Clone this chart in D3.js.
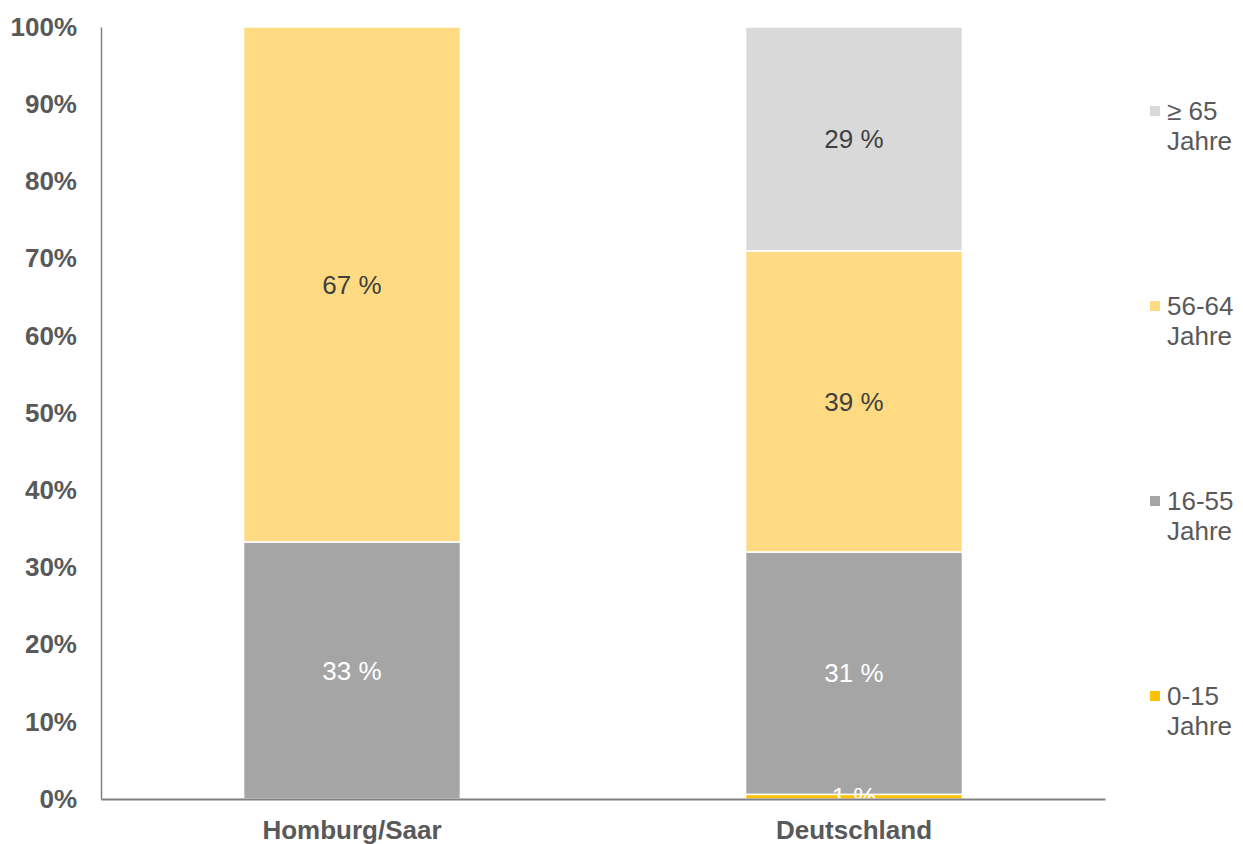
<!DOCTYPE html>
<html>
<head>
<meta charset="utf-8">
<script src="https://cdn.jsdelivr.net/npm/d3@7"></script>
<style>
  body { margin: 0; background: #fff; }
  text { font-family: "Liberation Sans", Arial, sans-serif; }
</style>
</head>
<body>
<svg id="chart" width="1243" height="844"></svg>
<script>
// DATA
const categories = ['Homburg/Saar', 'Deutschland'];
const seriesNames = ['0-15', '16-55', '56-64', '≥ 65'];
const seriesColors = ['#FFC000', '#A5A5A5', '#FEDB82', '#D9D9D9'];
const labelColors = ['#ffffff', '#ffffff', '#404040', '#404040'];
// percentage per series, one entry per category
const age0to15 = [0, 0.6];
const age16to55 = [33.3, 31.4];
const age56to64 = [66.7, 39.0];
const age65plus = [0, 29.0];
const yTicks = [0, 10, 20, 30, 40, 50, 60, 70, 80, 90, 100];

const svg = d3.select('#chart');
const margin = {left: 101, right: 138, top: 27, bottom: 45};
const width = 1243 - margin.left - margin.right;
const height = 844 - margin.top - margin.bottom;
const g = svg.append('g').attr('transform', `translate(${margin.left},${margin.top})`);

const table = categories.map((c, i) => ({
  cat: c,
  s0: age0to15[i], s1: age16to55[i], s2: age56to64[i], s3: age65plus[i]
}));
const stack = d3.stack().keys(['s0', 's1', 's2', 's3'])(table);

const pad = 0.568;
const x = d3.scaleBand().domain(categories).range([0, width])
  .paddingInner(pad).paddingOuter(pad / 2);
const y = d3.scaleLinear().domain([0, 100]).range([height, 0]);

// bars
const layer = g.selectAll('.layer').data(stack).enter().append('g')
  .attr('class', 'layer')
  .attr('fill', (d, i) => seriesColors[i]);

layer.selectAll('rect').data(d => d.filter(p => p[1] - p[0] > 0)).enter().append('rect')
  .attr('x', d => x(d.data.cat))
  .attr('y', d => y(d[1]))
  .attr('width', x.bandwidth())
  .attr('height', d => y(d[0]) - y(d[1]))
  .attr('stroke', '#ffffff')
  .attr('stroke-width', 1.5);

// value labels
stack.forEach((s, si) => {
  g.selectAll('.lbl' + si).data(s.filter(p => p[1] - p[0] > 0)).enter().append('text')
    .attr('x', d => x(d.data.cat) + x.bandwidth() / 2)
    .attr('y', d => y((d[0] + d[1]) / 2))
    .attr('dy', '0.35em')
    .attr('text-anchor', 'middle')
    .attr('font-size', 26)
    .attr('fill', labelColors[si])
    .text(d => Math.round(d[1] - d[0]) + ' %');
});

// y axis
const yAxis = d3.axisLeft(y).tickValues(yTicks).tickSize(0).tickPadding(24)
  .tickFormat(d => d + '%');
const yg = g.append('g').call(yAxis);
yg.select('.domain').attr('stroke', '#808080').attr('stroke-width', 1.5);
yg.selectAll('text').attr('font-size', 26).attr('font-weight', 'bold')
  .attr('fill', '#595959').style('font-family', '"Liberation Sans", Arial, sans-serif');

// x axis
const xAxis = d3.axisBottom(x).tickSize(0).tickPadding(22);
const xg = g.append('g').attr('transform', `translate(0,${height})`).call(xAxis);
xg.select('.domain').attr('stroke', '#808080').attr('stroke-width', 2);
xg.selectAll('text').attr('font-size', 26).attr('font-weight', 'bold')
  .attr('fill', '#595959').style('font-family', '"Liberation Sans", Arial, sans-serif');

// legend (top to bottom: reversed series order)
const legendY = d3.scalePoint().domain(seriesNames.slice().reverse()).range([111, 696]);
const legend = svg.selectAll('.legend').data(seriesNames).enter().append('g')
  .attr('class', 'legend')
  .attr('transform', d => `translate(1150,${legendY(d)})`);
legend.append('rect')
  .attr('x', 0).attr('y', -5).attr('width', 10).attr('height', 10)
  .attr('fill', (d, i) => seriesColors[i]);
legend.append('text')
  .attr('x', 17).attr('y', 0).attr('dy', '0.35em')
  .attr('font-size', 26).attr('fill', '#595959')
  .text(d => d);
legend.append('text')
  .attr('x', 17).attr('y', 30).attr('dy', '0.35em')
  .attr('font-size', 26).attr('fill', '#595959')
  .text('Jahre');
</script>
</body>
</html>
